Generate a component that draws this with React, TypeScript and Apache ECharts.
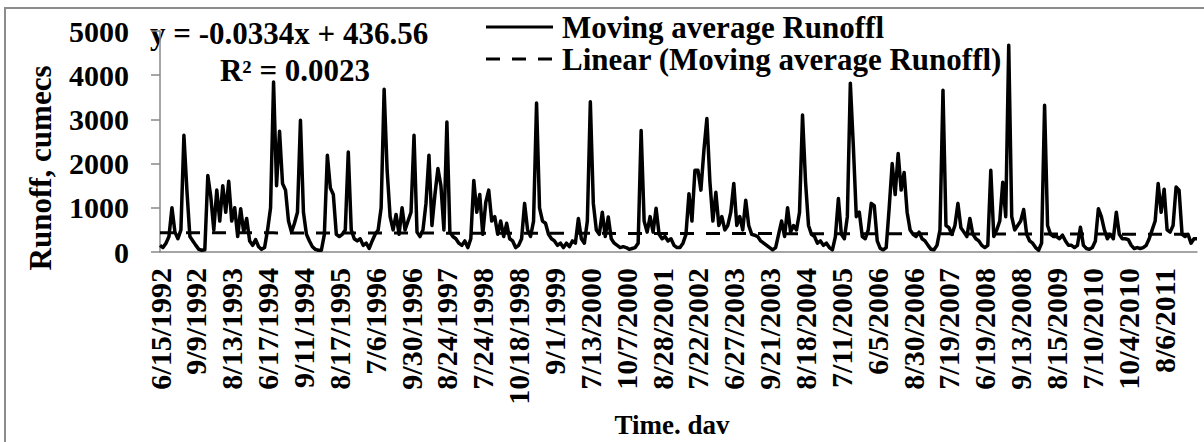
import React, { useEffect, useRef } from "react";
import * as echarts from "echarts";

// Tick labels shown on the category (time) axis, one every POINTS_PER_LABEL points
const TICK_LABELS = [
  "6/15/1992", "9/9/1992", "8/13/1993", "6/17/1994", "9/11/1994", "8/17/1995",
  "7/6/1996", "9/30/1996", "8/24/1997", "7/24/1998", "10/18/1998", "9/1/1999",
  "7/13/2000", "10/7/2000", "8/28/2001", "7/22/2002", "6/27/2003", "9/21/2003",
  "8/18/2004", "7/11/2005", "6/5/2006", "8/30/2006", "7/19/2007", "6/19/2008",
  "9/13/2008", "8/15/2009", "7/10/2010", "10/4/2010", "8/6/2011",
];
const POINTS_PER_LABEL = 12;

// Moving average runoff (cumecs), one row per tick-label segment
const RUNOFF = [
  150, 100, 200, 350, 1000, 450, 300, 500, 2640, 1400, 350, 250,
  150, 60, 40, 50, 1730, 1250, 500, 1400, 700, 1500, 900, 1600,
  700, 1000, 350, 980, 450, 760, 250, 150, 280, 120, 60, 100,
  500, 1000, 3845, 1500, 2730, 1550, 1400, 700, 450, 650, 900, 2980,
  900, 400, 250, 120, 60, 40, 40, 400, 2190, 1450, 1300, 400,
  350, 400, 500, 2260, 500, 300, 250, 300, 150, 200, 80, 250,
  400, 500, 1000, 3680, 1850, 800, 500, 850, 400, 1000, 500, 700,
  900, 2640, 450, 350, 500, 1100, 2190, 600, 1300, 1890, 1500, 500,
  2940, 450, 350, 300, 200, 150, 250, 100, 300, 1620, 900, 1300,
  400, 1120, 1400, 700, 800, 400, 700, 350, 650, 300, 250, 100,
  150, 300, 1100, 500, 350, 700, 3370, 1000, 700, 650, 400, 300,
  250, 150, 200, 100, 200, 120, 250, 200, 760, 300, 200, 700,
  3400, 1100, 500, 400, 900, 350, 790, 300, 200, 150, 100, 120,
  100, 60, 80, 100, 200, 2750, 700, 450, 800, 450, 990, 400,
  300, 350, 250, 300, 150, 100, 100, 200, 400, 1320, 700, 1850,
  1850, 1400, 2300, 3020, 1600, 700, 1350, 600, 800, 500, 600, 900,
  1550, 600, 800, 500, 1170, 600, 400, 380, 350, 250, 200, 150,
  100, 50, 100, 400, 700, 350, 1000, 450, 600, 500, 900, 3100,
  1600, 600, 400, 350, 200, 250, 150, 200, 100, 50, 350, 1210,
  400, 300, 800, 3820, 2400, 800, 900, 350, 300, 500, 1100, 1050,
  250, 80, 50, 100, 1000, 2000, 1300, 2230, 1400, 1800, 900, 500,
  400, 350, 450, 300, 250, 150, 60, 50, 150, 500, 3660, 600,
  550, 400, 600, 1100, 550, 450, 350, 760, 400, 300, 250, 150,
  100, 150, 1850, 350, 500, 700, 1580, 800, 4680, 800, 500, 600,
  700, 960, 400, 250, 200, 100, 40, 200, 3320, 600, 400, 350,
  350, 300, 380, 250, 150, 150, 100, 150, 560, 150, 80, 60,
  100, 250, 980, 800, 500, 300, 400, 300, 900, 400, 300, 300,
  280, 150, 80, 100, 80, 100, 150, 300, 500, 700, 1550, 900,
  1420, 500, 450, 600, 1470, 1400, 400, 350, 400, 200, 300, 300,
];

// Linear trendline of the moving average, as printed on the chart
const TREND_SLOPE = -0.0334;
const TREND_INTERCEPT = 436.56;
const TREND_X_PER_POINT = 3;
const EQUATION_TEXT = "y = -0.0334x + 436.56";
const R2_TEXT = "R² = 0.0023";

const SERIES_NAME = "Moving average Runoffl";
const TREND_NAME = "Linear (Moving average Runoffl)";
const Y_TITLE = "Runoff, cumecs";
const X_TITLE = "Time. dav";

const Y_MIN = 0;
const Y_MAX = 5000;
const Y_INTERVAL = 1000;

const FONT = '"Liberation Serif"';

export default function App() {
  const ref = useRef<HTMLDivElement>(null);

  useEffect(() => {
    if (!ref.current) return;
    const chart = echarts.init(ref.current, undefined, { renderer: "svg" });

    const categories = RUNOFF.map((_, i) => {
      const k = Math.floor(i / POINTS_PER_LABEL);
      const r = i % POINTS_PER_LABEL;
      return r === 0 ? TICK_LABELS[k] : `${TICK_LABELS[k]} +${r}`;
    });
    const trend = RUNOFF.map(
      (_, i) => TREND_INTERCEPT + TREND_SLOPE * (i * TREND_X_PER_POINT + 1)
    );

    const bold = { fontFamily: FONT, fontWeight: "bold" as const, color: "#000" };
    const txt = (text: string, size: number, align: string) => ({
      text,
      font: `bold ${size}px ${FONT}`,
      fill: "#000",
      textAlign: align,
      textVerticalAlign: "middle",
    });

    chart.setOption({
      animation: false,
      backgroundColor: "#fff",
      grid: { left: 160, right: 7, top: 31, bottom: 190, containLabel: false },
      xAxis: {
        type: "category",
        data: categories,
        boundaryGap: false,
        axisLine: { lineStyle: { color: "#888", width: 1.5 } },
        axisTick: { show: false },
        splitLine: { show: false },
        axisLabel: {
          interval: POINTS_PER_LABEL - 1,
          rotate: 90,
          margin: 16,
          fontSize: 30,
          ...bold,
        },
      },
      yAxis: {
        type: "value",
        min: Y_MIN,
        max: Y_MAX,
        interval: Y_INTERVAL,
        axisLine: { show: true, lineStyle: { color: "#888", width: 1.5 } },
        axisTick: { show: true, length: 9, lineStyle: { color: "#888", width: 1.5 } },
        splitLine: { show: false },
        axisLabel: { margin: 31, fontSize: 30, formatter: (v: number) => String(v), ...bold },
      },
      series: [
        {
          name: SERIES_NAME,
          type: "line",
          data: RUNOFF,
          symbol: "none",
          lineStyle: { color: "#000", width: 3.5, join: "round" },
          z: 2,
        },
        {
          name: TREND_NAME,
          type: "line",
          data: trend,
          symbol: "none",
          lineStyle: { color: "#000", width: 3, type: [14, 12] },
          z: 3,
        },
      ],
      graphic: [
        {
          type: "rect",
          shape: { x: 5, y: 8, width: 1210, height: 450 },
          style: { fill: "none", stroke: "#8c8c8c", lineWidth: 2 },
          silent: true,
        },
        { type: "text", x: 40, y: 168, rotation: Math.PI / 2, style: txt(Y_TITLE, 31, "center") },
        { type: "text", x: 672, y: 425, style: txt(X_TITLE, 27, "center") },
        { type: "text", x: 150, y: 33, style: txt(EQUATION_TEXT, 31, "left") },
        { type: "text", x: 295, y: 70, style: txt(R2_TEXT, 31, "center") },
        {
          type: "line",
          shape: { x1: 486, y1: 27, x2: 553, y2: 27 },
          style: { stroke: "#000", lineWidth: 3 },
        },
        { type: "text", x: 562, y: 27, style: txt(SERIES_NAME, 31, "left") },
        {
          type: "line",
          shape: { x1: 486, y1: 59, x2: 553, y2: 59 },
          style: { stroke: "#000", lineWidth: 3, lineDash: [14, 12] },
        },
        { type: "text", x: 562, y: 59, style: txt(TREND_NAME, 31, "left") },
      ],
    });

    return () => chart.dispose();
  }, []);

  return (
    <div
      ref={ref}
      style={{ position: "fixed", left: 0, top: 0, width: 1204, height: 442, background: "#fff" }}
    />
  );
}
